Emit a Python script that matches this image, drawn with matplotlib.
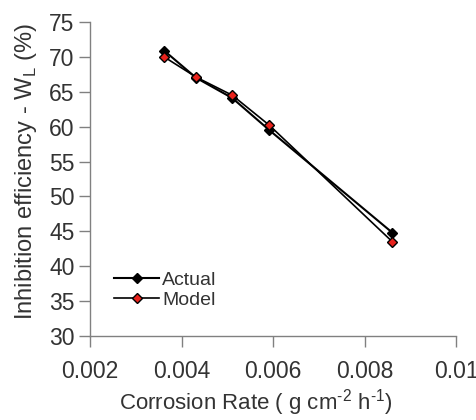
import matplotlib
matplotlib.use('Agg')
import matplotlib.pyplot as plt

# corrosion rate (g cm^-2 h^-1) vs inhibition efficiency (%)
rate = [0.00362, 0.00432, 0.00511, 0.00592, 0.00861]
actual = [70.9, 67.0, 64.1, 59.5, 44.8]
model = [70.0, 67.1, 64.5, 60.2, 43.5]

x_ticks = [0.002, 0.004, 0.006, 0.008, 0.01]
x_tick_labels = ['0.002', '0.004', '0.006', '0.008', '0.01']
y_ticks = [30, 35, 40, 45, 50, 55, 60, 65, 70, 75]

plt.rcParams['font.family'] = ['Liberation Sans', 'DejaVu Sans']
plt.rcParams['mathtext.fontset'] = 'custom'
plt.rcParams['mathtext.rm'] = 'Liberation Sans'
plt.rcParams['axes.unicode_minus'] = False

txt = '#333333'
fig = plt.figure(figsize=(4.77, 4.2), dpi=100)
ax = fig.add_axes([0.1887, 0.2, 0.7673, 0.7476])

ax.plot(rate, actual, color='black', lw=1.5, marker='D', ms=5.5,
        mfc='black', mec='black', label='Actual', zorder=3)
ax.plot(rate, model, color='black', lw=1.2, marker='D', ms=5,
        mfc='#e8221c', mec='black', mew=1.0, label='Model', zorder=4)

ax.set_xlim(0.002, 0.01)
ax.set_ylim(30, 75)
ax.set_xticks(x_ticks)
ax.set_xticklabels(x_tick_labels)
ax.set_yticks(y_ticks)

for side in ['top', 'right']:
    ax.spines[side].set_visible(False)
for side in ['left', 'bottom']:
    ax.spines[side].set_color('#808080')
    ax.spines[side].set_linewidth(1.0)
ax.tick_params(axis='both', direction='out', length=8, width=1.0,
               color='#808080', labelcolor=txt, labelsize=16.5)
ax.tick_params(axis='x', pad=9)
ax.tick_params(axis='y', pad=3)

# hyphen (U+2010) keeps the superscripts as short dashes
ax.set_xlabel('Corrosion Rate ( g cm$^{\\mathregular{\u20102}}$ h$^{\\mathregular{\u20101}}$)',
              fontsize=16, color=txt)
ax.set_ylabel('Inhibition efficiency - W$_{\\mathregular{L}}$ (%)',
              fontsize=17, color=txt)
ax.xaxis.set_label_coords(0.454, -0.163)
ax.yaxis.set_label_coords(-0.14, 0.525)

leg = ax.legend(loc='lower left', bbox_to_anchor=(0.045, 0.062), frameon=False,
                fontsize=14, handlelength=2.3, handletextpad=0.15,
                labelspacing=0.1, borderaxespad=0)
for t in leg.get_texts():
    t.set_color(txt)

fig.savefig('out.png', dpi=100)
